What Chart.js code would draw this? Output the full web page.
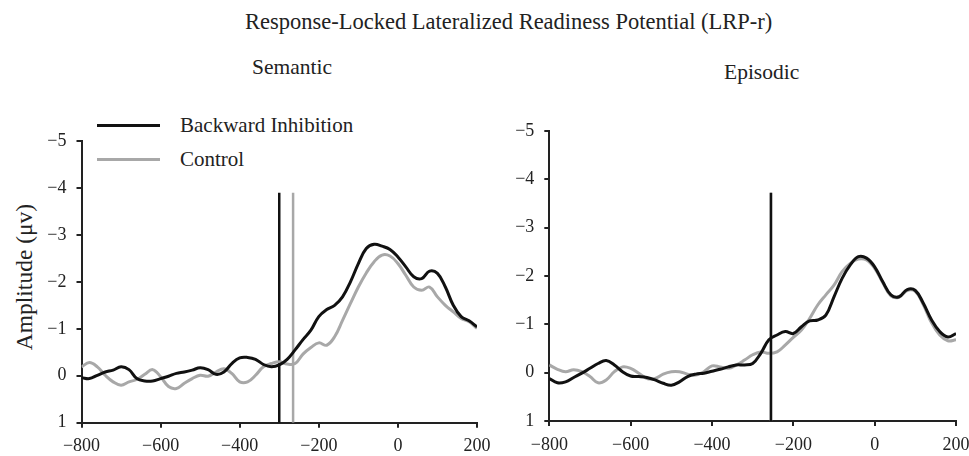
<!DOCTYPE html>
<html>
<head>
<meta charset="utf-8">
<script src="https://cdn.jsdelivr.net/npm/chart.js"></script>
<style>
  body { margin: 0; width: 969px; height: 456px; overflow: hidden; background: #fff; position: relative; font-family: "Liberation Serif", "DejaVu Serif", serif; color: #222; }
  canvas { position: absolute; top: 0; }
  .txt { position: absolute; white-space: nowrap; line-height: 1.15; }
  .leg-line { position: absolute; height: 3px; width: 63px; }
</style>
</head>
<body>
<div class="txt" style="left:245px; top:9px; font-size:22.5px;">Response-Locked Lateralized Readiness Potential (LRP-r)</div>
<div class="txt" style="left:252px; top:55px; font-size:21.5px;">Semantic</div>
<div class="txt" style="left:724px; top:60px; font-size:21.5px;">Episodic</div>
<div class="txt" style="left:25px; top:277px; font-size:23.5px; transform: translate(-50%, -50%) rotate(-90deg);">Amplitude (μv)</div>
<div class="leg-line" style="left:97px; top:124px; background:#111;"></div>
<div class="txt" style="left:180px; top:113px; font-size:21px;">Backward Inhibition</div>
<div class="leg-line" style="left:97px; top:158px; background:#a8a8a8;"></div>
<div class="txt" style="left:180px; top:147px; font-size:21px;">Control</div>

<canvas id="semantic" width="500" height="456" style="left:0px;"></canvas>
<canvas id="episodic" width="490" height="456" style="left:495px;"></canvas>

<script>
// time points (ms, response-locked)
const times = [-800,-780,-760,-740,-720,-700,-680,-660,-640,-620,-600,-580,-560,-540,-520,-500,-480,-460,-440,-420,
  -400,-380,-360,-340,-320,-300,-280,-260,-240,-220,-200,-180,-160,-140,-120,-100,-80,-60,-40,-20,
  0,20,40,60,80,100,120,140,160,180,200];

// Semantic panel
const semBI = [0.04,0.06,-0.01,-0.08,-0.12,-0.19,-0.13,0.06,0.11,0.11,0.06,0.01,-0.05,-0.08,-0.12,-0.17,-0.13,-0.03,-0.08,-0.26,
  -0.38,-0.39,-0.35,-0.24,-0.19,-0.23,-0.35,-0.55,-0.77,-0.97,-1.26,-1.41,-1.50,-1.68,-2.00,-2.39,-2.71,-2.80,-2.76,-2.69,
  -2.53,-2.32,-2.11,-2.07,-2.23,-2.18,-1.89,-1.50,-1.26,-1.17,-1.04];
const semCtrl = [-0.19,-0.28,-0.19,-0.01,0.13,0.20,0.13,0.08,-0.03,-0.13,0.02,0.23,0.27,0.16,0.06,-0.01,0.01,-0.08,-0.15,-0.05,
  0.13,0.13,-0.01,-0.19,-0.26,-0.30,-0.25,-0.26,-0.46,-0.60,-0.70,-0.65,-0.83,-1.18,-1.54,-1.89,-2.19,-2.43,-2.57,-2.55,
  -2.39,-2.14,-1.89,-1.82,-1.89,-1.68,-1.50,-1.36,-1.22,-1.15,-1.01];

// Episodic panel
const epiBI = [0.12,0.21,0.19,0.10,0.01,-0.09,-0.19,-0.25,-0.16,-0.02,0.07,0.08,0.10,0.15,0.22,0.26,0.19,0.08,0.03,0.01,
  -0.03,-0.07,-0.12,-0.16,-0.16,-0.19,-0.40,-0.68,-0.78,-0.85,-0.81,-0.95,-1.07,-1.09,-1.19,-1.57,-1.95,-2.23,-2.40,-2.37,
  -2.19,-1.88,-1.61,-1.57,-1.72,-1.70,-1.43,-1.09,-0.85,-0.74,-0.81];
const epiCtrl = [-0.16,-0.07,-0.02,-0.06,-0.02,0.08,0.21,0.15,-0.02,-0.12,-0.09,0.01,0.12,0.12,0.03,-0.02,-0.02,0.03,0.05,-0.02,
  -0.14,-0.12,-0.09,-0.16,-0.26,-0.37,-0.43,-0.40,-0.43,-0.57,-0.73,-0.88,-1.12,-1.40,-1.61,-1.81,-2.09,-2.26,-2.35,-2.33,
  -2.16,-1.86,-1.59,-1.56,-1.70,-1.68,-1.40,-1.03,-0.78,-0.66,-0.68];

// mean response onset markers (vertical lines)
const semOnsets = [-300, -265];   // BI, Control
const semMarkerTop = -3.9;
const epiOnsets = [-255, -255];
const epiMarkerTop = -3.72;

const yMin = -5, yMax = 1;
const xMin = -800, xMax = 200;

function toPoints(ys) {
  return times.map((t, i) => ({ x: t, y: ys[i] }));
}

function minusLabel(v) {
  return v < 0 ? '\u2212' + Math.abs(v) : String(v);
}

function makeChart(id, bi, ctrl, onsets, markerTop, pad, yWidth, xHeight) {
  const datasets = [
    { data: toPoints(bi), borderColor: '#111', borderWidth: 3, tension: 0.4 },
    { data: toPoints(ctrl), borderColor: '#a8a8a8', borderWidth: 3, tension: 0.4 },
    { data: [{ x: onsets[0], y: markerTop }, { x: onsets[0], y: yMax }], borderColor: '#111', borderWidth: 2.5, tension: 0 },
    { data: [{ x: onsets[1], y: markerTop }, { x: onsets[1], y: yMax }], borderColor: '#a8a8a8', borderWidth: 2.5, tension: 0 }
  ];
  if (onsets[0] === onsets[1]) {
    // same onset: keep the black one on top
    datasets[2].order = -1;
  }
  new Chart(document.getElementById(id), {
    type: 'line',
    data: { datasets: datasets },
    options: {
      responsive: false,
      animation: false,
      layout: { padding: pad },
      elements: { point: { radius: 0 } },
      plugins: { legend: { display: false }, tooltip: { enabled: false } },
      scales: {
        x: {
          type: 'linear', min: xMin, max: xMax,
          ticks: { stepSize: 200, color: '#222', padding: 8, maxRotation: 0,
            font: { family: 'Liberation Serif', size: 18 }, callback: minusLabel },
          grid: { drawOnChartArea: false, drawTicks: true, tickLength: 5, color: '#222', lineWidth: 2 },
          border: { display: true, color: '#222', width: 2 },
          afterFit: s => { s.height = xHeight; }
        },
        y: {
          type: 'linear', min: yMin, max: yMax, reverse: true,
          ticks: { stepSize: 1, color: '#222', padding: 10,
            font: { family: 'Liberation Serif', size: 18 }, callback: minusLabel },
          grid: { drawOnChartArea: false, drawTicks: true, tickLength: 5, color: '#222', lineWidth: 2 },
          border: { display: true, color: '#222', width: 2 },
          afterFit: s => { s.width = yWidth; }
        }
      }
    }
  });
}

makeChart('semantic', semBI, semCtrl, semOnsets, semMarkerTop,
  { left: 0, top: 141, right: 23, bottom: 0 }, 81.5, 33.3);
makeChart('episodic', epiBI, epiCtrl, epiOnsets, epiMarkerTop,
  { left: 0, top: 131, right: 29, bottom: 0 }, 54.3, 35);
</script>
</body>
</html>
